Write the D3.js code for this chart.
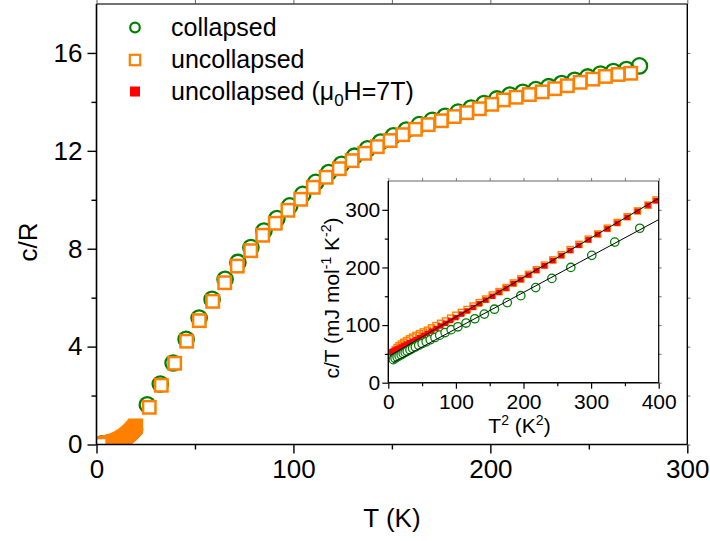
<!DOCTYPE html>
<html><head><meta charset="utf-8">
<script src="https://cdn.jsdelivr.net/npm/d3@7"></script>
<style>body{margin:0;background:#fff} svg{display:block} text{font-family:"Liberation Sans",Arial,sans-serif;fill:#000}</style>
</head><body><svg id="c" width="710" height="541"></svg>
<script>
// ---------- DATA ----------
// main panel: uncollapsed, low-T dense set (T in K, c/R)
const uncLowT = [2.0,2.4,2.8,3.2,3.6,4.0,4.4,4.8,5.2,5.6,6.0,6.4,6.8,7.2,7.6,8.0,8.4,8.8,9.2,9.6,10.0,10.4,10.8,11.2,11.6,12.0,12.4,12.8,13.2,13.6,14.0,14.4,14.8,15.2,15.6,16.0,16.4,16.8,17.2,17.6,18.0,18.4,18.8,19.2,19.6,19.9];
const uncLowC = [0.010,0.014,0.018,0.022,0.026,0.031,0.036,0.040,0.046,0.051,0.057,0.063,0.070,0.076,0.083,0.091,0.100,0.109,0.118,0.129,0.141,0.153,0.165,0.179,0.194,0.209,0.227,0.243,0.262,0.283,0.303,0.326,0.349,0.373,0.400,0.427,0.456,0.485,0.515,0.546,0.580,0.615,0.651,0.688,0.726,0.759];
// main panel: uncollapsed, high-T set
const uncHighT = [26.8,32.9,39.7,45.8,52.2,59.0,65.1,71.5,78.3,84.4,90.8,97.2,103.7,110.1,116.6,123.3,129.8,136.2,142.6,149.1,155.5,161.9,168.4,175.1,181.6,188.0,194.4,200.7,206.6,213.1,219.8,226.3,232.7,239.1,245.6,252.0,258.4,264.9,271.3];
const uncHighC = [1.52,2.42,3.32,4.22,5.06,5.85,6.61,7.29,7.92,8.55,9.04,9.57,10.02,10.51,10.92,11.27,11.60,11.90,12.17,12.42,12.66,12.88,13.07,13.23,13.40,13.56,13.72,13.90,14.08,14.19,14.30,14.41,14.54,14.66,14.80,14.93,15.04,15.12,15.17];
// main panel: collapsed
const colLowT = [2.72,3.16,3.61,4.0,4.36,4.69,5.0,5.29,5.66,6.0,6.32,6.71,7.07,7.48,7.87,8.31,8.72,9.17,9.64,10.15,10.72,11.31,11.92,12.53,13.27,14.0,14.76,15.56,16.43,17.35,18.30,19.29];
const colLowC = [0.013,0.016,0.019,0.022,0.025,0.029,0.032,0.035,0.039,0.043,0.047,0.052,0.058,0.064,0.071,0.078,0.087,0.096,0.107,0.118,0.133,0.151,0.171,0.192,0.222,0.254,0.293,0.339,0.395,0.461,0.537,0.622];
const colHighT = [25.8,32.4,38.9,45.5,52.1,58.7,65.3,71.8,78.4,85.0,91.6,98.1,104.7,111.3,117.9,124.4,131.0,137.6,144.2,150.7,157.3,163.9,170.5,177.0,183.6,190.2,196.8,203.3,209.9,216.5,223.1,229.6,236.2,242.8,249.4,255.9,262.5,269.1,275.7];
const colHighC = [1.62,2.47,3.33,4.30,5.17,5.93,6.75,7.44,8.05,8.72,9.23,9.75,10.22,10.71,11.11,11.45,11.78,12.08,12.36,12.61,12.85,13.07,13.25,13.41,13.58,13.75,13.93,14.12,14.28,14.39,14.50,14.62,14.75,14.88,15.02,15.14,15.24,15.32,15.47];

// inset: c/T (mJ mol^-1 K^-2) vs T^2 (K^2)
const insColT2 = [7.4,10,13,16,19,22,25,28,32,36,40,45,50,56,62,69,76,84,93,103,115,128,142,157,176,196,218,242,270,301,335,372];
const insColCT = [40,42.5,44.5,46.5,48.5,50.5,52.5,54.5,57,59.5,62,65,68,71,74.5,78.5,82.5,87,92,97,103.5,111,119,127.5,139,151,165,181,200,221,244,268];
const insUncT2 = [4,5.8,7.8,10.2,13,16,19.4,23,27,31.4,36,41,46.2,51.8,57.8,64,70.6,77.4,84.6,92.2,100,108.2,116.6,125.4,134.6,144,153.8,163.8,174.2,185,196,207.4,219,231,243.4,256,269,282,295.8,309.8,324,338.6,353.4,368.6,384.2,396];
const insUncCT = [43,48,53,57,61,64,67,70,73,76,79,82,85,88,91,95,99,103,107,112,117,122,127,133,139,145,152,158,165,173,180,188,196,204,213,222,231,240,249,258,268,278,288,298,308,317];
const insFieldCT = [53,54,55,57,58.5,60,62,64.5,67,69.5,72,75,78,82,85.5,89.5,94,98.5,103,108,113,119,124.5,130.5,137,143.5,150,157,164,172,179,187,195,203,212,220.5,229.5,238.5,248,257.5,267,277,287,297.5,308,316];
const fitUncX = [2.5,400], fitUncY = [47,320];
const fitColX = [7.4,400], fitColY = [35,283];

const mainXTicks = [0,100,200,300], mainXMinor = [50,150,250];
const mainYTicks = [0,4,8,12,16], mainYMinor = [2,6,10,14];
const insXTicks = [0,100,200,300,400], insXMinor = [50,150,250,350];
const insYTicks = [0,100,200,300], insYMinor = [50,150,250];
const legendLabels = ["collapsed","uncollapsed","uncollapsed ("];

// ---------- DRAW ----------
const GREEN="#008000", ORANGE="#FF8000", RED="#FF0000";
const svg = d3.select("#c");
svg.append("rect").attr("width",710).attr("height",541).attr("fill","#fff");

const x = d3.scaleLinear().domain([0,300]).range([96.5,687.3]);
const y = d3.scaleLinear().domain([0,18]).range([444.5,4]);

const defs = svg.append("defs");
defs.append("clipPath").attr("id","mclip").append("rect")
  .attr("x",x(0)).attr("y",y(18)).attr("width",x(300)-x(0)).attr("height",y(0)-y(18));

const zip = (a,b)=>a.map((v,i)=>[v,b[i]]);

const mg = svg.append("g").attr("clip-path","url(#mclip)");
// collapsed circles
mg.selectAll("circle.c").data(zip(colLowT,colLowC).concat(zip(colHighT,colHighC))).join("circle")
  .attr("cx",d=>x(d[0])).attr("cy",d=>y(d[1])).attr("r",7.7)
  .attr("fill","none").attr("stroke",GREEN).attr("stroke-width",2.3);
// uncollapsed squares (drawn from high T to low T)
const sq = 12.4;
const uncAll = zip(uncLowT,uncLowC).concat(zip(uncHighT,uncHighC)).sort((a,b)=>b[0]-a[0]);
mg.selectAll("rect.u").data(uncAll).join("rect")
  .attr("x",d=>x(d[0])-sq/2).attr("y",d=>y(d[1])-sq/2).attr("width",sq).attr("height",sq)
  .attr("fill","#fff").attr("stroke",ORANGE).attr("stroke-width",2.5);

// main axes
const axStyle = g=>{g.select(".domain").remove(); g.selectAll("line").attr("stroke","#000").attr("stroke-width",1.4);};
svg.append("g").attr("transform",`translate(0,${y(0)})`)
  .call(d3.axisBottom(x).tickValues(mainXTicks).tickSize(9).tickPadding(6).tickFormat(d3.format("d")))
  .call(axStyle).call(g=>g.selectAll("text").attr("font-size",26).attr("font-family","Liberation Sans, Arial"));
svg.append("g").attr("transform",`translate(0,${y(0)})`)
  .call(d3.axisBottom(x).tickValues(mainXMinor).tickSize(5).tickFormat("")).call(axStyle);
svg.append("g").attr("transform",`translate(${x(0)},0)`)
  .call(d3.axisLeft(y).tickValues(mainYTicks).tickSize(9).tickPadding(5).tickFormat(d3.format("d")))
  .call(axStyle).call(g=>g.selectAll("text").attr("font-size",26).attr("font-family","Liberation Sans, Arial"));
svg.append("g").attr("transform",`translate(${x(0)},0)`)
  .call(d3.axisLeft(y).tickValues(mainYMinor).tickSize(5).tickFormat("")).call(axStyle);
// top & right
svg.append("g").attr("transform",`translate(0,${y(18)})`)
  .call(d3.axisTop(x).tickValues(mainXTicks.concat(mainXMinor)).tickSize(4).tickFormat(""))
  .call(g=>{g.select(".domain").remove(); g.selectAll("line").attr("stroke","#666").attr("stroke-width",1);});
svg.append("g").attr("transform",`translate(${x(300)},0)`)
  .call(d3.axisRight(y).tickValues(mainYTicks.concat(mainYMinor)).tickSize(3).tickFormat(""))
  .call(g=>{g.select(".domain").remove(); g.selectAll("line").attr("stroke","#666").attr("stroke-width",1);});
svg.append("line").attr("x1",x(0)).attr("x2",x(300)).attr("y1",y(18)).attr("y2",y(18)).attr("stroke","#444").attr("stroke-width",1.3);
svg.append("line").attr("x1",x(300)).attr("x2",x(300)).attr("y1",y(18)).attr("y2",y(0)).attr("stroke","#000").attr("stroke-width",1.4);
svg.append("line").attr("x1",x(0)).attr("x2",x(300)).attr("y1",y(0)).attr("y2",y(0)).attr("stroke","#000").attr("stroke-width",1.6);
svg.append("line").attr("x1",x(0)).attr("x2",x(0)).attr("y1",y(18)).attr("y2",y(0)).attr("stroke","#000").attr("stroke-width",1.6);

svg.append("text").attr("x",(x(0)+x(300))/2).attr("y",527).attr("text-anchor","middle").attr("font-size",26).text("T (K)");
svg.append("text").attr("transform","translate(37,242) rotate(-90)").attr("text-anchor","middle").attr("font-size",26).text("c/R");

// legend
const lg = svg.append("g");
lg.append("circle").attr("cx",135).attr("cy",27.5).attr("r",4.8).attr("fill","none").attr("stroke",GREEN).attr("stroke-width",2.2);
lg.append("rect").attr("x",135-5.2).attr("y",60-5.2).attr("width",10.4).attr("height",10.4).attr("fill","#fff").attr("stroke",ORANGE).attr("stroke-width",2.2);
lg.append("rect").attr("x",135-5).attr("y",91.5-5).attr("width",10).attr("height",10).attr("fill",RED);
lg.append("text").attr("x",171).attr("y",35.5).attr("font-size",25).text(legendLabels[0]);
lg.append("text").attr("x",171).attr("y",67.5).attr("font-size",25).text(legendLabels[1]);
const t3 = lg.append("text").attr("x",171).attr("y",99.5).attr("font-size",25);
t3.append("tspan").text(legendLabels[2]+"\u03bc");
t3.append("tspan").attr("font-size",17).attr("dy",6).text("0");
t3.append("tspan").attr("dy",-6).text("H=7T)");

// ---------- INSET ----------
const xi = d3.scaleLinear().domain([0,400]).range([388.3,658.7]);
const yi = d3.scaleLinear().domain([0,350]).range([382.7,181]);
svg.append("rect").attr("x",xi(0)).attr("y",yi(350)).attr("width",xi(400)-xi(0)).attr("height",yi(0)-yi(350)).attr("fill","#fff");
defs.append("clipPath").attr("id","iclip").append("rect")
  .attr("x",xi(0)).attr("y",yi(350)).attr("width",xi(400)-xi(0)).attr("height",yi(0)-yi(350));
const ig = svg.append("g").attr("clip-path","url(#iclip)");

ig.selectAll("rect.iu").data(zip(insUncT2,insUncCT)).join("rect")
  .attr("x",d=>xi(d[0])-3.1).attr("y",d=>yi(d[1])-3.1).attr("width",6.2).attr("height",6.2)
  .attr("fill","none").attr("stroke",ORANGE).attr("stroke-width",1.4);
ig.selectAll("rect.ir").data(zip(insUncT2,insFieldCT)).join("rect")
  .attr("x",d=>xi(d[0])-2.7).attr("y",d=>yi(d[1])-2.7).attr("width",5.4).attr("height",5.4)
  .attr("fill",RED);
ig.selectAll("circle.ic").data(zip(insColT2,insColCT)).join("circle")
  .attr("cx",d=>xi(d[0])).attr("cy",d=>yi(d[1])).attr("r",4.2)
  .attr("fill","#fff").attr("stroke",GREEN).attr("stroke-width",1.3);
const ln = d3.line().x(d=>xi(d[0])).y(d=>yi(d[1]));
ig.append("path").attr("d",ln(zip(fitUncX,fitUncY))).attr("stroke","#000").attr("stroke-width",1).attr("fill","none");
ig.append("path").attr("d",ln(zip(fitColX,fitColY))).attr("stroke","#000").attr("stroke-width",1).attr("fill","none");

const iaxStyle = g=>{g.select(".domain").remove(); g.selectAll("line").attr("stroke","#000").attr("stroke-width",1.2);};
svg.append("g").attr("transform",`translate(0,${yi(0)})`)
  .call(d3.axisBottom(xi).tickValues(insXTicks).tickSize(6).tickPadding(5).tickFormat(d3.format("d")))
  .call(iaxStyle).call(g=>g.selectAll("text").attr("font-size",21).attr("font-family","Liberation Sans, Arial"));
svg.append("g").attr("transform",`translate(0,${yi(0)})`)
  .call(d3.axisBottom(xi).tickValues(insXMinor).tickSize(3.5).tickFormat("")).call(iaxStyle);
svg.append("g").attr("transform",`translate(${xi(0)},0)`)
  .call(d3.axisLeft(yi).tickValues(insYTicks).tickSize(6).tickPadding(2).tickFormat(d3.format("d")))
  .call(iaxStyle).call(g=>g.selectAll("text").attr("font-size",21).attr("font-family","Liberation Sans, Arial"));
svg.append("g").attr("transform",`translate(${xi(0)},0)`)
  .call(d3.axisLeft(yi).tickValues(insYMinor).tickSize(3.5).tickFormat("")).call(iaxStyle);
svg.append("g").attr("transform",`translate(0,${yi(350)})`)
  .call(d3.axisTop(xi).tickValues(insXTicks.concat(insXMinor)).tickSize(3).tickFormat(""))
  .call(g=>{g.select(".domain").remove(); g.selectAll("line").attr("stroke","#777").attr("stroke-width",1);});
svg.append("g").attr("transform",`translate(${xi(400)},0)`)
  .call(d3.axisRight(yi).tickValues(insYTicks.concat(insYMinor)).tickSize(3).tickFormat(""))
  .call(g=>{g.select(".domain").remove(); g.selectAll("line").attr("stroke","#777").attr("stroke-width",1);});
svg.append("line").attr("x1",xi(0)).attr("x2",xi(400)).attr("y1",yi(350)).attr("y2",yi(350)).attr("stroke","#666").attr("stroke-width",1.2);
svg.append("line").attr("x1",xi(400)).attr("x2",xi(400)).attr("y1",yi(350)).attr("y2",yi(0)).attr("stroke","#000").attr("stroke-width",1.2);
svg.append("line").attr("x1",xi(0)).attr("x2",xi(400)).attr("y1",yi(0)).attr("y2",yi(0)).attr("stroke","#000").attr("stroke-width",1.4);
svg.append("line").attr("x1",xi(0)).attr("x2",xi(0)).attr("y1",yi(350)).attr("y2",yi(0)).attr("stroke","#000").attr("stroke-width",1.4);

const ixl = svg.append("text").attr("x",(xi(0)+xi(400))/2-4).attr("y",433).attr("text-anchor","middle").attr("font-size",21);
ixl.append("tspan").text("T");
ixl.append("tspan").attr("font-size",14).attr("dy",-8).text("2");
ixl.append("tspan").attr("dy",8).text(" (K");
ixl.append("tspan").attr("font-size",14).attr("dy",-8).text("2");
ixl.append("tspan").attr("dy",8).text(")");

const iyl = svg.append("text").attr("transform",`translate(339,298) rotate(-90)`).attr("text-anchor","middle").attr("font-size",21);
iyl.append("tspan").text("c/T (mJ mol");
iyl.append("tspan").attr("font-size",14).attr("dy",-8).text("-1");
iyl.append("tspan").attr("dy",8).text(" K");
iyl.append("tspan").attr("font-size",14).attr("dy",-8).text("-2");
iyl.append("tspan").attr("dy",8).text(")");
</script>
</body></html>
